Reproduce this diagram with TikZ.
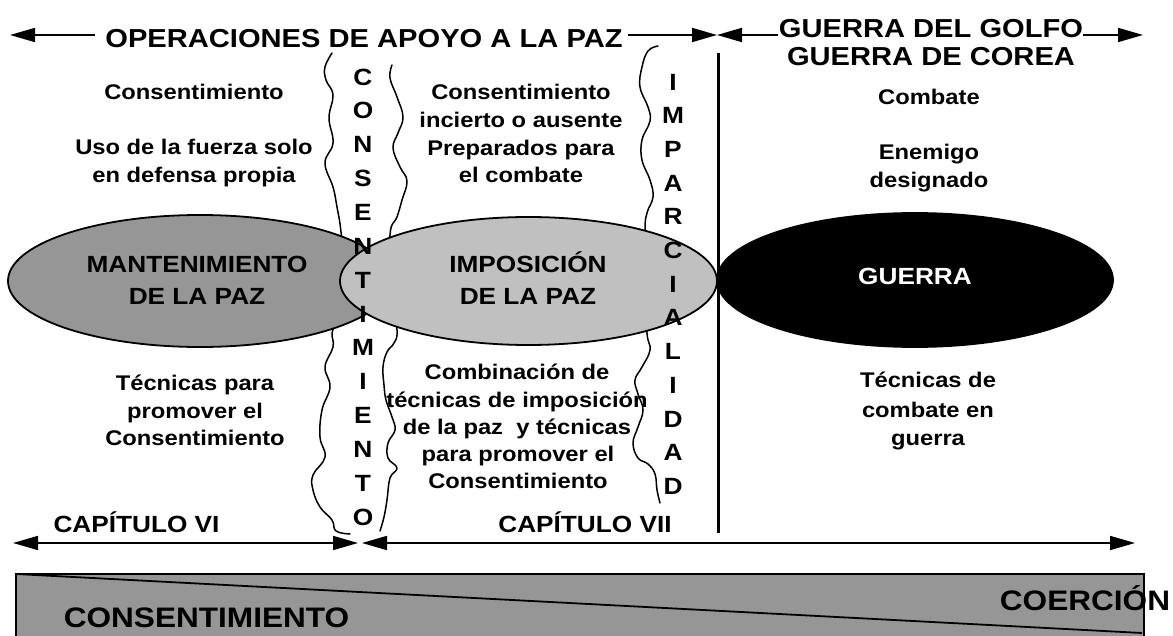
\documentclass[tikz,border=0pt]{standalone}
\usepackage{fontspec}
\setmainfont{Liberation Sans}[FakeStretch=1.12]
\usetikzlibrary{arrows.meta,shapes.geometric}
\definecolor{dgray}{RGB}{150,150,150}
\definecolor{lgray}{RGB}{192,192,192}
\begin{document}
\begin{tikzpicture}[x=1pt,y=-1pt,
  every node/.style={inner sep=0pt, outer sep=0pt},
  tt/.style={font=\fontsize{26}{30}\selectfont\bfseries, anchor=base},
  sm/.style={font=\fontsize{21.2}{28}\selectfont\bfseries, anchor=base},
  el/.style={font=\fontsize{23.4}{30}\selectfont\bfseries, anchor=base},
  col/.style={font=\fontsize{23.5}{28}\selectfont\bfseries, anchor=center},
  bg/.style={font=\fontsize{28.2}{32}\selectfont\bfseries, anchor=base},
  arr/.style={line width=1.7pt, -{Triangle[length=25pt,width=14pt]}},
  arrb/.style={line width=1.7pt, {Triangle[length=25pt,width=14pt]}-{Triangle[length=25pt,width=14pt]}},
  wave/.style={line width=1.5pt, line join=round, line cap=round},
  oval/.style={ellipse, draw=black, line width=1.8pt, inner sep=0pt},
]
\useasboundingbox (0,0) rectangle (1173,636);

% wavy boundaries
\draw[wave] plot[smooth, tension=0.7] coordinates {(332,53) (325,67) (326,80) (333,95) (329,118) (333,143) (325,163) (333,187) (337,207) (341,232) (345,280) (336,320) (332,333) (333,347) (325,367) (330,387) (322,410) (320,437) (325,457) (313,475) (313,490) (320,507) (332,520) (336,531) (350,534)};
\draw[wave] plot[smooth, tension=0.7] coordinates {(392,65) (390,78) (397,97) (403,117) (398,133) (393,148) (400,167) (407,181) (402,200) (397,217) (390,235) (392,290) (397,330) (394,343) (387,352) (383,367) (384,385) (386,400) (392,417) (395,430) (388,443) (388,458) (397,468) (390,478) (387,500) (384,517) (380,531)};
\draw[wave] plot[smooth, tension=0.7] coordinates {(658,46) (648,51) (642,67) (640,87) (648,107) (650,121) (642,140) (642,160) (650,180) (653,197) (647,213) (645,232) (646,290) (647,333) (650,350) (642,367) (635,380) (638,394) (643,410) (638,427) (633,443) (638,458) (648,464) (655,474) (657,490) (660,503)};

% ellipses
\node[oval, fill=dgray, minimum width=384pt, minimum height=132pt] (mant) at (200,281) {};
\node[oval, fill=lgray, minimum width=377pt, minimum height=128pt] (impo) at (528.5,281) {};
\node[oval, fill=black, minimum width=396pt, minimum height=134pt] (guer) at (915,280) {};

% vertical divider
\coordinate (v0) at (718,53);
\coordinate (v1) at (718,533);
\draw[line width=3pt] (v0) -- (v1);

% top texts and arrows
\node[tt] (title) at (364,48) {OPERACIONES DE APOYO A LA PAZ};
\node[tt] (golfo) at (931,38) {GUERRA DEL GOLFO};
\node[tt] (corea) at (931,66) {GUERRA DE COREA};
\coordinate (t0) at (10,35);
\coordinate (t1) at (95,35);
\coordinate (t2) at (628,35);
\coordinate (t3) at (717,35);
\coordinate (t4) at (778,35);
\coordinate (t5) at (1083,35);
\coordinate (t6) at (1143,35);
\draw[arr] (t1) -- (t0);
\draw[arr] (t2) -- (t3);
\draw[arr] (t4) -- (t3);
\draw[arr] (t5) -- (t6);

% left column
\node[sm] (l1) at (194,100) {Consentimiento};
\node[sm] (l2) at (194,155) {Uso de la fuerza solo};
\node[sm] (l3) at (194,183) {en defensa propia};
\node[el] (mant1) at (197,273) {MANTENIMIENTO};
\node[el] (mant2) at (197,305) {DE LA PAZ};
\node[sm] (l4) at (195,390) {Técnicas para};
\node[sm] (l5) at (195,418) {promover el};
\node[sm] (l6) at (195,445) {Consentimiento};

% middle column
\node[sm] (m1) at (521,100) {Consentimiento};
\node[sm] (m2) at (521,128) {incierto o ausente};
\node[sm] (m3) at (521,156) {Preparados para};
\node[sm] (m4) at (521,183) {el combate};
\node[el] (imp1) at (528,273) {IMPOSICIÓN};
\node[el] (imp2) at (528,305) {DE LA PAZ};
\node[sm] (b1) at (517,380) {Combinación de};
\node[sm] (b2) at (517,407) {técnicas de imposición};
\node[sm] (b3) at (517,434) {de la paz\ \ y técnicas};
\node[sm] (b4) at (518,461) {para promover el};
\node[sm] (b5) at (518,488) {Consentimiento};

% right column
\node[sm] (r1) at (929,105) {Combate};
\node[sm] (r2) at (929,160) {Enemigo};
\node[sm] (r3) at (929,188) {designado};
\node[el, text=white] (guerT) at (915,285) {GUERRA};
\node[sm] (r4) at (928,388) {Técnicas de};
\node[sm] (r5) at (928,417) {combate en};
\node[sm] (r6) at (928,445) {guerra};

% vertical words
\foreach \l [count=\k] in {C,O,N,S,E,N,T,I,M,I,E,N,T,O}
  \node[col] (c\k) at (363,{77+(\k-1)*33.85}) {\l};
\foreach \l [count=\k] in {I,M,P,A,R,C,I,A,L,I,D,A,D}
  \node[col] (i\k) at (673,{82+(\k-1)*33.7}) {\l};

% chapter arrows
\node[el] (cap6) at (136.5,532) {CAPÍTULO VI};
\node[el] (cap7) at (585,532) {CAPÍTULO VII};
\coordinate (b0) at (13,543);
\coordinate (bm1) at (358,543);
\coordinate (bm2) at (362,543);
\coordinate (b9) at (1135,543);
\draw[arrb] (b0) -- (bm1);
\draw[arrb] (bm2) -- (b9);

% consent / coercion bar
\draw[line width=1.6pt, fill=dgray] (16,574) rectangle (1144,650);
\coordinate (d0) at (16,574);
\coordinate (d1) at (1142,633);
\draw[line width=1.8pt] (d0) -- (d1);
\node[bg] (cons) at (206.5,627) {CONSENTIMIENTO};
\node[bg] (coer) at (1085,610) {COERCIÓN};
\end{tikzpicture}
\end{document}
